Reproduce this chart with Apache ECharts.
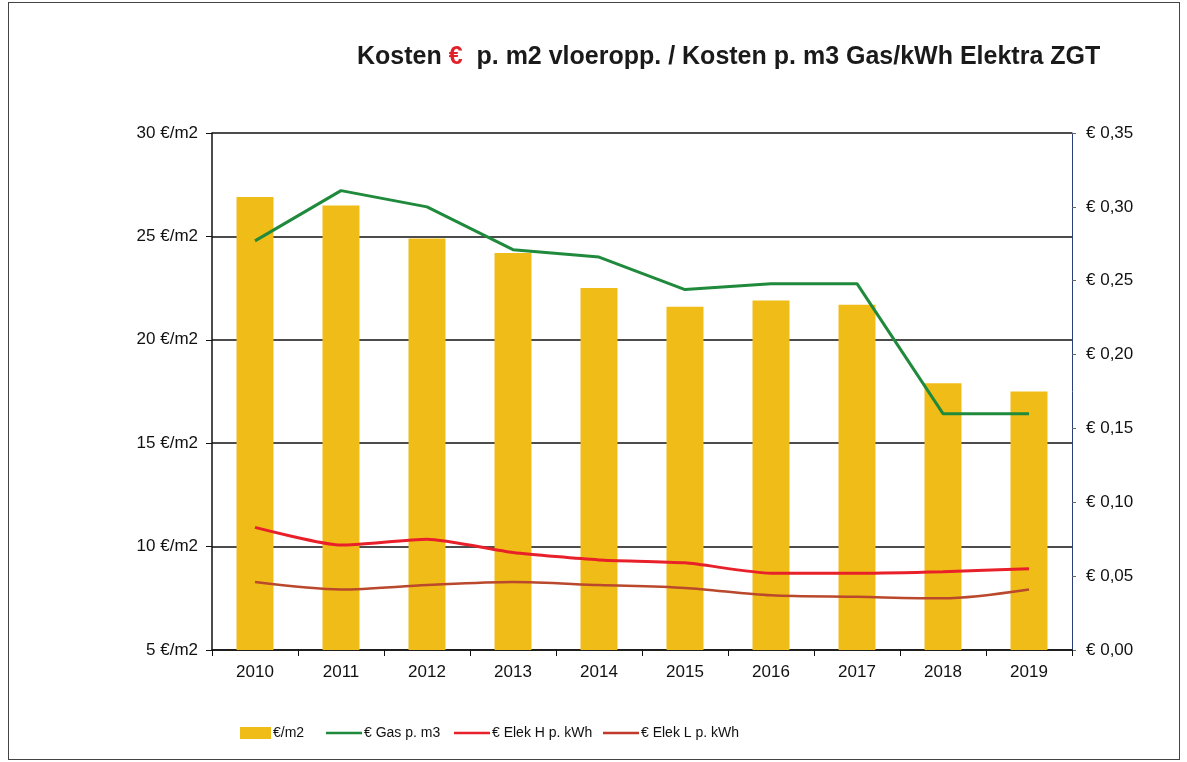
<!DOCTYPE html>
<html>
<head>
<meta charset="utf-8">
<script src="https://cdn.jsdelivr.net/npm/echarts@6/dist/echarts.min.js"></script>
<style>
  html, body { margin: 0; padding: 0; background: #fff; }
  #main { position: absolute; left: 0; top: 0; width: 1187px; height: 762px; }
  #frame { position: absolute; left: 8px; top: 2px; width: 1170px; height: 756px; border: 1px solid #444; pointer-events: none; }
</style>
</head>
<body>
<div id="main"></div>
<div id="frame"></div>
<script>
var years = ['2010', '2011', '2012', '2013', '2014', '2015', '2016', '2017', '2018', '2019'];
var costPerM2 = [26.9, 26.5, 24.9, 24.2, 22.5, 21.6, 21.9, 21.7, 17.9, 17.5];
var gasPerM3 = [0.277, 0.311, 0.300, 0.271, 0.266, 0.244, 0.248, 0.248, 0.160, 0.160];
var elekHigh = [0.083, 0.071, 0.075, 0.066, 0.061, 0.059, 0.052, 0.052, 0.053, 0.055];
var elekLow = [0.046, 0.041, 0.044, 0.046, 0.044, 0.042, 0.037, 0.036, 0.035, 0.041];
var seriesNames = ['€/m2', '€ Gas p. m3', '€ Elek H p. kWh', '€ Elek L p. kWh'];

var dom = document.getElementById('main');
var chart = echarts.init(dom);
var font = 'Liberation Sans, Arial, sans-serif';
var lineIcon = 'path://M0,0H40V3H0Z';

// one legend per item so each sits where it is in the original
var legendLeft = [235, 321, 449, 598];
var legends = seriesNames.map(function (name, i) {
    return {
        left: legendLeft[i],
        top: 721,
        itemWidth: i === 0 ? 31 : 36,
        itemHeight: 12,
        itemGap: 0,
        textStyle: { fontSize: 14, color: '#111', fontFamily: font, padding: [0, 0, 0, -3] },
        data: [{ name: name, icon: i === 0 ? 'rect' : lineIcon }]
    };
});

chart.setOption({
    animation: false,
    textStyle: { fontFamily: font },
    title: {
        text: '{a|Kosten }{e|€}{a|  p. m2 vloeropp. / Kosten p. m3 Gas/kWh Elektra ZGT}',
        left: 352,
        top: 40,
        textStyle: {
            rich: {
                a: { fontFamily: font, fontSize: 25, fontWeight: 'bold', color: '#1a1a1a' },
                e: { fontFamily: font, fontSize: 25, fontWeight: 'bold', color: '#e0202a' }
            }
        }
    },
    legend: legends,
    grid: { left: 212, right: 115, top: 133, bottom: 112 },
    xAxis: {
        type: 'category',
        data: years,
        axisLine: { lineStyle: { color: '#111', width: 1.5 } },
        axisTick: { show: true, length: 6, lineStyle: { color: '#111' } },
        axisLabel: { fontSize: 17, color: '#111', margin: 14 }
    },
    yAxis: [{
        type: 'value',
        min: 5,
        max: 30,
        interval: 5,
        axisLine: { show: true, lineStyle: { color: '#111', width: 1.5 } },
        axisTick: { show: true, length: 6, lineStyle: { color: '#111' } },
        axisLabel: { fontSize: 17, color: '#111', margin: 14, formatter: function (v) { return v + ' €/m2'; } },
        splitLine: { lineStyle: { color: '#111', width: 1.5 } }
    }, {
        type: 'value',
        min: 0,
        max: 0.35,
        interval: 0.05,
        position: 'right',
        axisLine: { show: true, lineStyle: { color: '#2a3f7a', width: 1 } },
        axisTick: { show: true, length: 4, lineStyle: { color: '#666' } },
        axisLabel: {
            fontSize: 17, color: '#111', margin: 14,
            formatter: function (v) { return '€ ' + v.toFixed(2).replace('.', ','); }
        },
        splitLine: { show: false }
    }],
    series: [{
        name: seriesNames[0],
        type: 'bar',
        data: costPerM2,
        barWidth: '43%',
        itemStyle: { color: '#f0bd18' }
    }, {
        name: seriesNames[1],
        type: 'line',
        yAxisIndex: 1,
        data: gasPerM3,
        symbol: 'none',
        lineStyle: { color: '#1f8a3c', width: 3 },
        itemStyle: { color: '#1f8a3c' }
    }, {
        name: seriesNames[2],
        type: 'line',
        yAxisIndex: 1,
        data: elekHigh,
        symbol: 'none',
        smooth: 0.2,
        lineStyle: { color: '#e8202a', width: 3 },
        itemStyle: { color: '#e8202a' }
    }, {
        name: seriesNames[3],
        type: 'line',
        yAxisIndex: 1,
        data: elekLow,
        symbol: 'none',
        smooth: 0.3,
        lineStyle: { color: '#b9482c', width: 2.5 },
        itemStyle: { color: '#c0392b' }
    }]
});
</script>
</body>
</html>
